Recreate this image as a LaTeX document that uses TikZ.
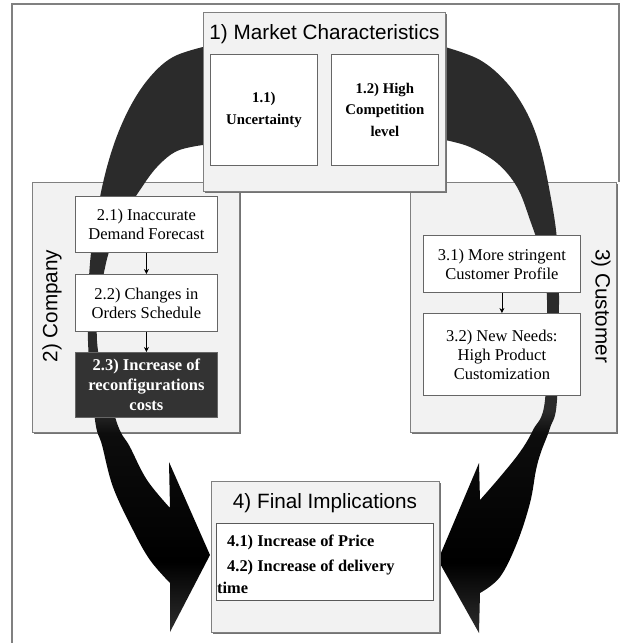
\documentclass[tikz,border=0pt]{standalone}
\usepackage{fontspec}
\setmainfont{Liberation Serif}
\newfontfamily\arialf{Liberation Sans}
\usetikzlibrary{arrows.meta,shadows}
\pgfdeclareverticalshading{arrowshade}{100bp}{color(0bp)=(black!82); color(25bp)=(black!82); color(31bp)=(black); color(42bp)=(black!95); color(44bp)=(black!83); color(100bp)=(black!83)}
\begin{document}
\begin{tikzpicture}[x=1pt,y=-1pt,
  panel/.style={draw=black!50, fill=black!5, line width=0.9pt, inner sep=0pt,
    drop shadow={shadow xshift=1.6pt, shadow yshift=-1.6pt, fill=black!55, opacity=1}},
  wbox/.style={draw=black!60, fill=white, line width=0.8pt, inner sep=0pt, align=center,
    font=\fontsize{16.5}{19}\selectfont,
    drop shadow={shadow xshift=1pt, shadow yshift=-1pt, fill=black!40, opacity=1}},
  mbox/.style={wbox, font=\fontsize{14.8}{21.5}\selectfont\bfseries},
  dbox/.style={wbox, fill=black!80, text=white, font=\fontsize{16.5}{20}\selectfont\bfseries},
  ibox/.style={draw=black!65, fill=white, line width=0.8pt, inner sep=0pt},
  title/.style={font=\arialf\fontsize{20.7}{24}\selectfont, inner sep=0pt},
  itemtxt/.style={font=\fontsize{16.4}{19}\selectfont\bfseries, inner sep=0pt, anchor=west},
  conn/.style={draw=black, line width=0.6pt, -{Stealth[length=5pt,width=5pt]}},
  frame/.style={draw=black!50, line width=1.4pt},
  bigarrow/.style={shading=arrowshade}
]
\useasboundingbox (0,0) rectangle (623,643);
\fill[white] (0,0) rectangle (623,643);

% outer frame
\draw[frame] (12,643) -- (12,4) -- (619,4) -- (619,182);

% side panels
\node[panel, anchor=north west, minimum width=207, minimum height=250] (company) at (32,182) {};
\node[panel, anchor=north west, minimum width=206, minimum height=250] (customer) at (410,182) {};

% left big arrow
\shade[bigarrow] plot[smooth, tension=0.6] coordinates {(203,47) (173,57) (150,77) (130,107) (113,147) (100,197) (90,263) (88,341) (95,420) (102,445) (113,487) (133,530) (150,560) (170,583)}
  -- (170,632) -- (210,555) -- (169,462) -- (170,508)
  -- plot[smooth, tension=0.6] coordinates {(170,508) (147,480) (130,447) (116,420) (97,341) (106,263) (125,215) (140,190) (157,167) (177,151) (203,145)}
  -- cycle;

% right big arrow
\shade[bigarrow] plot[smooth, tension=0.6] coordinates {(445,47) (480,60) (507,83) (527,113) (540,147) (550,193) (557,240) (559,300) (557,400) (550,428) (541,452) (536,470) (530,503) (517,543) (500,577) (480,593)}
  -- (479,633) -- (438,560) -- (479,463) -- (480,500)
  -- plot[smooth, tension=0.6] coordinates {(480,500) (500,477) (520,452) (533,430) (545,400) (547,300) (541,255) (530,220) (517,187) (497,163) (470,147) (445,140)}
  -- cycle;

% market characteristics
\node[panel, anchor=north west, minimum width=242, minimum height=179] (market) at (203,12) {};
\node[title] (mtitle) at (324.5,34) {1) Market Characteristics};
\node[mbox, anchor=north west, minimum width=107, minimum height=111] (b11) at (210,54) {1.1)\\Uncertainty};
\node[mbox, anchor=north west, minimum width=107, minimum height=111] (b12) at (331,54) {1.2) High\\Competition\\level};

% company
\node[title, rotate=90] (ctitle) at (52,306) {2) Company};
\node[wbox, anchor=north west, minimum width=142, minimum height=56] (b21) at (75,196) {2.1) Inaccurate\\Demand Forecast};
\node[wbox, anchor=north west, minimum width=142, minimum height=57] (b22) at (75,274) {2.2) Changes in\\Orders Schedule};
\node[dbox, anchor=north west, minimum width=142, minimum height=65] (b23) at (75,352) {2.3) Increase of\\reconfigurations\\costs};
\draw[conn] (b21) -- (b22);
\draw[conn] (b22) -- (b23);

% customer
\node[title, rotate=-90] (stitle) at (601,306) {3) Customer};
\node[wbox, anchor=north west, minimum width=157, minimum height=57] (b31) at (423,235) {3.1) More stringent\\Customer Profile};
\node[wbox, anchor=north west, minimum width=157, minimum height=82] (b32) at (423,313) {3.2) New Needs:\\High Product\\Customization};
\draw[conn] (b31) -- (b32);

% final implications
\node[panel, anchor=north west, minimum width=228, minimum height=151] (final) at (211,481) {};
\node[title] (ftitle) at (325,503) {4) Final Implications};
\node[ibox, anchor=north west, minimum width=217, minimum height=77] (b4) at (216,523) {};
\node[itemtxt] (t41) at (227,542) {4.1) Increase of Price};
\node[itemtxt] (t42) at (227,567) {4.2) Increase of delivery};
\node[itemtxt] (t42b) at (217,588) {time};
\end{tikzpicture}
\end{document}
